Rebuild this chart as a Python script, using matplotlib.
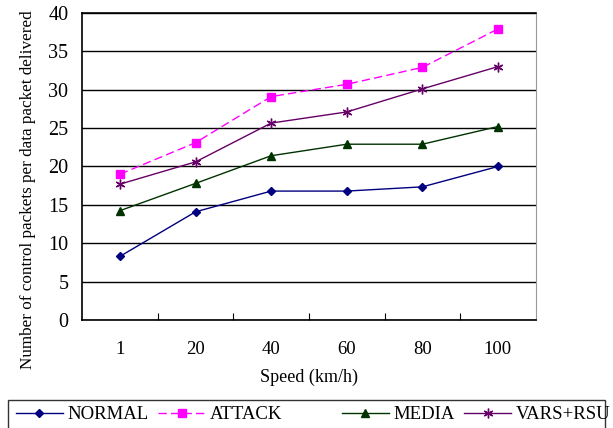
import numpy as np
import matplotlib.pyplot as plt
from matplotlib.patches import Rectangle

speeds = ["1", "20", "40", "60", "80", "100"]
normal = [8.3, 14.1, 16.8, 16.8, 17.35, 20.0]
attack = [19.0, 23.1, 29.1, 30.7, 32.9, 37.9]
media = [14.25, 17.8, 21.4, 22.9, 22.9, 25.2]
vars_rsu = [17.7, 20.6, 25.65, 27.1, 30.1, 33.0]

plt.rcParams['font.family'] = ['Liberation Serif', 'DejaVu Serif']

fig = plt.figure(figsize=(6.13, 4.28), dpi=100)
ax = fig.add_axes([0.134, 0.252, 0.740, 0.718])

x = np.arange(len(speeds))
l1, = ax.plot(x, normal, color='#000080', marker='D', ms=4.5, lw=1, label='NORMAL')
l2, = ax.plot(x, attack, color='#FF00FF', marker='s', ms=5.5, lw=1, ls=(0, (6, 3)), label='ATTACK')
l3, = ax.plot(x, media, color='#003300', marker='^', ms=6, lw=1, label='MEDIA')
l4, = ax.plot(x, vars_rsu, color='#660066', marker=(6, 2, 0), ms=7, mew=1, lw=1, label='VARS+RSU')

ax.set_xlim(-0.5, len(speeds) - 0.5)
ax.set_ylim(0, 40)
ax.set_yticks(range(0, 41, 5))
ax.yaxis.grid(True, color='black', lw=1)
ax.set_axisbelow(True)

# category ticks sit between the categories, labels on the categories
ax.set_xticks(x[:-1] + 0.5)
ax.set_xticks(x, minor=True)
ax.set_xticklabels(speeds, minor=True)
ax.tick_params(axis='x', which='major', direction='in', length=5, labelbottom=False)
ax.tick_params(axis='x', which='minor', length=0, pad=15, labelsize=13.5)
ax.tick_params(axis='y', length=0, labelsize=14.5, pad=10)

for s in ['top', 'left', 'bottom']:
    ax.spines[s].set_color('black')
    ax.spines[s].set_linewidth(1.2)
ax.spines['right'].set_color('#999999')

ax.set_xlabel('Speed (km/h)', fontsize=13, labelpad=8)
ax.set_ylabel('Number of control packets per data packet delivered', fontsize=12.3)
ax.yaxis.set_label_coords(-0.102, 0.423)

# legend box like the spreadsheet one: a frame plus two groups of entries
fig.patches.append(Rectangle((8 / 613, -0.01), 597 / 613, 0.076, transform=fig.transFigure,
                             fill=False, edgecolor='#333333', lw=1))
kw = dict(loc='center left', ncol=2, fontsize=13.5, frameon=False, borderpad=0,
          borderaxespad=0, handlelength=2.5, handletextpad=0.27, columnspacing=0.48)
fig.legend([l1, l2], ['NORMAL', 'ATTACK'], bbox_to_anchor=(16 / 613, 0.031), **kw)
fig.legend([l3, l4], ['MEDIA', 'VARS+RSU'], bbox_to_anchor=(342 / 613, 0.031), **kw)

fig.savefig('out.png', dpi=100)
